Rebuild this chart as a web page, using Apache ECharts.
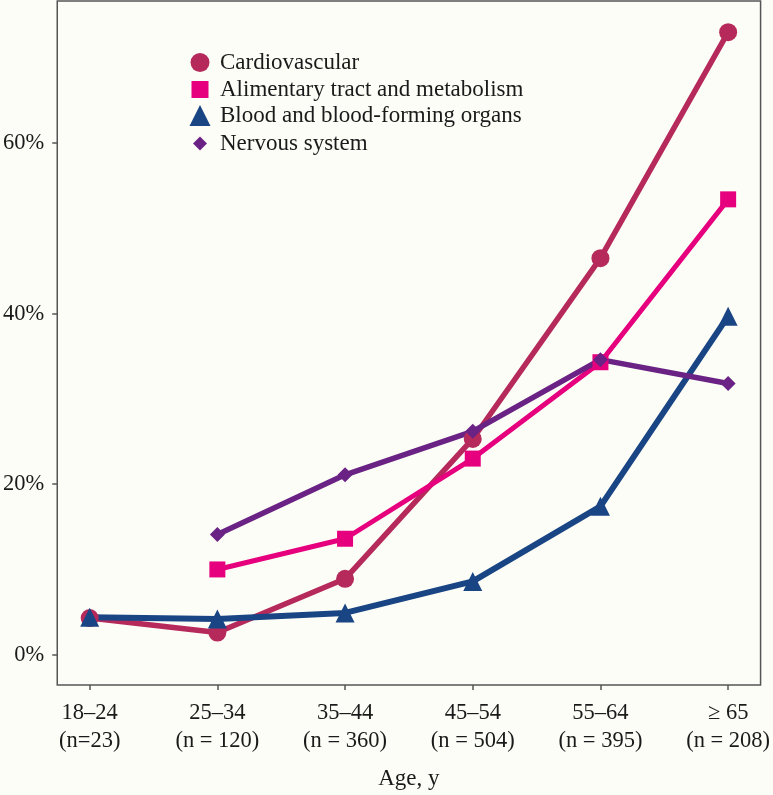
<!DOCTYPE html>
<html>
<head>
<meta charset="utf-8">
<script src="https://cdn.jsdelivr.net/npm/echarts@6/dist/echarts.min.js"></script>
<style>
html,body{margin:0;padding:0;background:#fdfdf7;}
#chart{width:773px;height:795px;}
</style>
</head>
<body>
<div id="chart"></div>
<script>
// ---- data ----
const categories = ['18–24', '25–34', '35–44', '45–54', '55–64', '≥ 65'];
const nLabels = ['(n=23)', '(n = 120)', '(n = 360)', '(n = 504)', '(n = 395)', '(n = 208)'];
const yTicks = [0, 20, 40, 60];
const seriesNames = ['Cardiovascular', 'Alimentary tract and metabolism', 'Blood and blood-forming organs', 'Nervous system'];
const cardiovascular = [4.3, 2.6, 8.9, 25.3, 46.5, 73.0];
const alimentary = [null, 10.0, 13.6, 23.0, 34.3, 53.4];
const blood = [4.4, 4.2, 4.9, 8.6, 17.4, 39.7];
const nervous = [null, 14.1, 21.1, 26.2, 34.6, 31.8];

// ---- styles ----
const FONT = 'Liberation Serif';
const TXT = '#1a1a1a';
const colors = ['#b52a5b', '#e6007e', '#1a4584', '#6a2384'];
const symbols = ['circle', 'rect', 'triangle', 'diamond'];
const symSizes = [18, 16, 19, 15];
const legSizes = [19, 17, 21, 14];
const lineWidths = [5.5, 5, 6, 5.5];
const legendCenters = [63, 90, 116, 144];

function toPts(arr) {
  const out = [];
  arr.forEach((v, i) => { if (v !== null) out.push([i, v]); });
  return out;
}
const allValues = [cardiovascular, alimentary, blood, nervous];

const chart = echarts.init(document.getElementById('chart'), null, {renderer: 'canvas'});
const option = {
  backgroundColor: '#fdfdf7',
  animation: false,
  textStyle: {fontFamily: FONT, color: TXT},
  grid: {
    left: 55, right: 10, top: 1, bottom: 110,
    show: true, borderColor: '#555', borderWidth: 1.5, backgroundColor: 'transparent'
  },
  legend: seriesNames.map((name, k) => ({
    data: [{name: name, icon: symbols[k]}],
    left: 200 - legSizes[k] / 2,
    top: legendCenters[k] - Math.max(legSizes[k], 24) / 2,
    orient: 'vertical',
    itemWidth: legSizes[k],
    itemHeight: legSizes[k],
    padding: 0,
    selectedMode: false,
    formatter: n => '{t|' + n + '}',
    textStyle: {
      fontFamily: FONT, fontSize: 23, color: TXT,
      rich: {t: {fontFamily: FONT, fontSize: 23, color: TXT, lineHeight: 24, padding: [0, 0, 0, 15 - legSizes[k] / 2]}}
    }
  })),
  xAxis: {
    type: 'value',
    min: -0.254, max: 5.254,
    splitLine: {show: false},
    axisLine: {show: false, onZero: false},
    axisTick: {show: true, length: 5, lineStyle: {color: '#555', width: 1.5}, customValues: [0, 1, 2, 3, 4, 5]},
    axisLabel: {
      customValues: [0, 1, 2, 3, 4, 5],
      margin: 14,
      fontFamily: FONT, fontSize: 22.5, color: TXT, lineHeight: 28,
      formatter: v => categories[Math.round(v)] + '\n' + nLabels[Math.round(v)]
    },
    name: 'Age, y',
    nameLocation: 'middle',
    nameGap: 82,
    nameTextStyle: {fontFamily: FONT, fontSize: 23, color: TXT}
  },
  yAxis: {
    type: 'value',
    min: -3.55, max: 76.66,
    splitLine: {show: false},
    axisLine: {show: false, onZero: false},
    axisTick: {show: true, length: 5, lineStyle: {color: '#555', width: 1.5}, customValues: yTicks},
    axisLabel: {
      customValues: yTicks,
      margin: 13,
      fontFamily: FONT, fontSize: 22.5, color: TXT,
      formatter: v => Math.round(v) + '%'
    }
  },
  series: seriesNames.map((name, k) => ({
    name: name,
    type: 'line',
    data: toPts(allValues[k]),
    symbol: symbols[k],
    symbolSize: symSizes[k],
    showAllSymbol: true,
    color: colors[k],
    lineStyle: {color: colors[k], width: lineWidths[k]},
    itemStyle: {color: colors[k], borderWidth: 0},
    emphasis: {disabled: true}
  }))
};
chart.setOption(option);
</script>
</body>
</html>
